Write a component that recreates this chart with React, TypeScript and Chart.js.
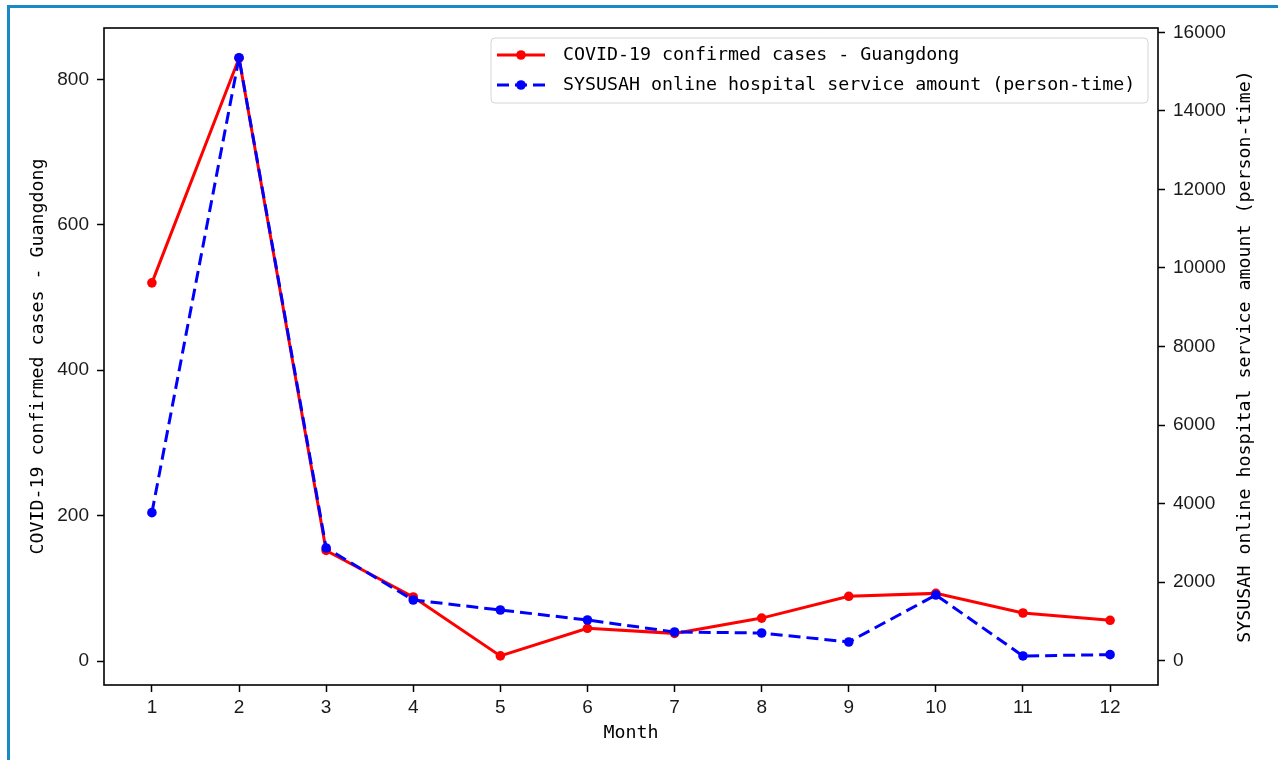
import { useEffect, useRef } from 'react';
import { Chart, registerables } from 'chart.js';

Chart.register(...registerables);

const months = [1, 2, 3, 4, 5, 6, 7, 8, 9, 10, 11, 12];
const covidCases = [520, 829, 152, 88, 7, 45, 38, 59, 89, 93, 66, 56];
const onlineService = [3770, 15353, 2870, 1545, 1291, 1036, 731, 705, 476, 1673, 120, 154];
const leftTicks = [0, 200, 400, 600, 800];
const rightTicks = [0, 2000, 4000, 6000, 8000, 10000, 12000, 14000, 16000];

const redLabel = 'COVID-19 confirmed cases - Guangdong';
const blueLabel = 'SYSUSAH online hospital service amount (person-time)';
const xTitle = 'Month';

const MONO = '"DejaVu Sans Mono", "Liberation Mono", monospace';
const SANS = '"Liberation Sans", Arial, sans-serif';

const overlayPlugin = {
  id: 'overlay',
  afterDatasetsDraw(chart: any) {
    const { ctx, chartArea } = chart;
    ctx.save();
    // frame (all four spines)
    ctx.strokeStyle = '#000';
    ctx.lineWidth = 1.6;
    ctx.strokeRect(chartArea.left, chartArea.top, chartArea.right - chartArea.left, chartArea.bottom - chartArea.top);

    // right axis title, reading bottom-to-top
    ctx.save();
    ctx.translate(1245, (chartArea.top + chartArea.bottom) / 2);
    ctx.rotate(-Math.PI / 2);
    ctx.fillStyle = '#000';
    ctx.font = `18.3px ${MONO}`;
    ctx.textAlign = 'center';
    ctx.textBaseline = 'middle';
    ctx.fillText(blueLabel, 0, 0);
    ctx.restore();

    // legend
    const bx = 491, by = 38, bw = 657, bh = 65;
    ctx.beginPath();
    (ctx as any).roundRect(bx, by, bw, bh, 4);
    ctx.fillStyle = 'rgba(255,255,255,0.85)';
    ctx.fill();
    ctx.strokeStyle = '#d4d4d4';
    ctx.lineWidth = 1;
    ctx.stroke();

    const rows = [
      { label: redLabel, color: '#ff0000', dash: [] as number[], y: 55 },
      { label: blueLabel, color: '#0000ff', dash: [12, 6], y: 85 },
    ];
    rows.forEach((r) => {
      ctx.beginPath();
      ctx.setLineDash(r.dash);
      ctx.strokeStyle = r.color;
      ctx.lineWidth = 3;
      ctx.moveTo(497, r.y);
      ctx.lineTo(545, r.y);
      ctx.stroke();
      ctx.setLineDash([]);
      ctx.beginPath();
      ctx.fillStyle = r.color;
      ctx.arc(521, r.y, 4.8, 0, Math.PI * 2);
      ctx.fill();
      ctx.fillStyle = '#000';
      ctx.font = `18.3px ${MONO}`;
      ctx.textBaseline = 'middle';
      ctx.textAlign = 'left';
      ctx.fillText(r.label, 563, r.y);
    });
    ctx.restore();
  },
};

export default function App() {
  const canvasRef = useRef<HTMLCanvasElement | null>(null);

  useEffect(() => {
    const canvas = canvasRef.current;
    if (!canvas) return;
    const tickFont = { family: SANS, size: 19 };
    const titleFont = { family: MONO, size: 18.3 };
    const gridOpts = {
      display: true,
      drawOnChartArea: false,
      drawTicks: true,
      tickLength: 7,
      tickWidth: 1.5,
      tickColor: '#000',
    };
    const chart = new Chart(canvas, {
      type: 'line',
      data: {
        datasets: [
          {
            label: blueLabel,
            data: months.map((m, i) => ({ x: m, y: onlineService[i] })),
            yAxisID: 'y1',
            borderColor: '#0000ff',
            backgroundColor: '#0000ff',
            borderWidth: 3,
            borderDash: [12, 6],
            pointRadius: 4.8,
            pointBorderWidth: 0,
            pointBackgroundColor: '#0000ff',
            tension: 0,
            order: 0,
          },
          {
            label: redLabel,
            data: months.map((m, i) => ({ x: m, y: covidCases[i] })),
            yAxisID: 'y',
            borderColor: '#ff0000',
            backgroundColor: '#ff0000',
            borderWidth: 3,
            pointRadius: 4.8,
            pointBorderWidth: 0,
            pointBackgroundColor: '#ff0000',
            tension: 0,
            order: 1,
          },
        ],
      },
      options: {
        responsive: false,
        animation: false,
        layout: { padding: { top: 28, left: 0, right: 0, bottom: 0 } },
        plugins: {
          legend: { display: false },
          tooltip: { enabled: false },
        },
        scales: {
          x: {
            type: 'linear',
            min: 0.45,
            max: 12.55,
            afterBuildTicks: (s: any) => {
              s.ticks = months.map((v) => ({ value: v }));
            },
            afterFit: (s: any) => {
              s.height = 75;
            },
            grid: gridOpts,
            border: { display: false },
            ticks: {
              font: tickFont,
              color: '#1a1a1a',
              padding: 4,
              maxRotation: 0,
              autoSkip: false,
              callback: (v: any) => String(v),
            },
            title: {
              display: true,
              text: xTitle,
              font: titleFont,
              color: '#000',
              padding: { top: 0, bottom: 16 },
            },
          },
          y: {
            type: 'linear',
            position: 'left',
            min: -33,
            max: 870.5,
            afterBuildTicks: (s: any) => {
              s.ticks = leftTicks.map((v) => ({ value: v }));
            },
            afterFit: (s: any) => {
              s.width = 104;
            },
            grid: gridOpts,
            border: { display: false },
            ticks: {
              font: tickFont,
              color: '#1a1a1a',
              padding: 8,
              autoSkip: false,
              callback: (v: any) => String(v),
            },
            title: {
              display: true,
              text: redLabel,
              font: titleFont,
              color: '#000',
              padding: { top: 27, bottom: 0 },
            },
          },
          y1: {
            type: 'linear',
            position: 'right',
            min: -619,
            max: 16110,
            afterBuildTicks: (s: any) => {
              s.ticks = rightTicks.map((v) => ({ value: v }));
            },
            afterFit: (s: any) => {
              s.width = 120;
            },
            grid: gridOpts,
            border: { display: false },
            ticks: {
              font: tickFont,
              color: '#1a1a1a',
              padding: 8,
              autoSkip: false,
              callback: (v: any) => String(v),
            },
            title: { display: false },
          },
        },
      },
      plugins: [overlayPlugin],
    } as any);
    return () => chart.destroy();
  }, []);

  return (
    <div style={{ position: 'fixed', left: 0, top: 0, width: 1278, height: 760, background: '#fff', overflow: 'hidden' }}>
      <div
        style={{
          position: 'absolute',
          left: 7,
          top: 5,
          width: 1400,
          height: 900,
          borderLeft: '3px solid #1a8ac6',
          borderTop: '3px solid #1a8ac6',
          boxSizing: 'border-box',
        }}
      />
      <canvas ref={canvasRef} width={1278} height={760} style={{ position: 'absolute', left: 0, top: 0 }} />
    </div>
  );
}
